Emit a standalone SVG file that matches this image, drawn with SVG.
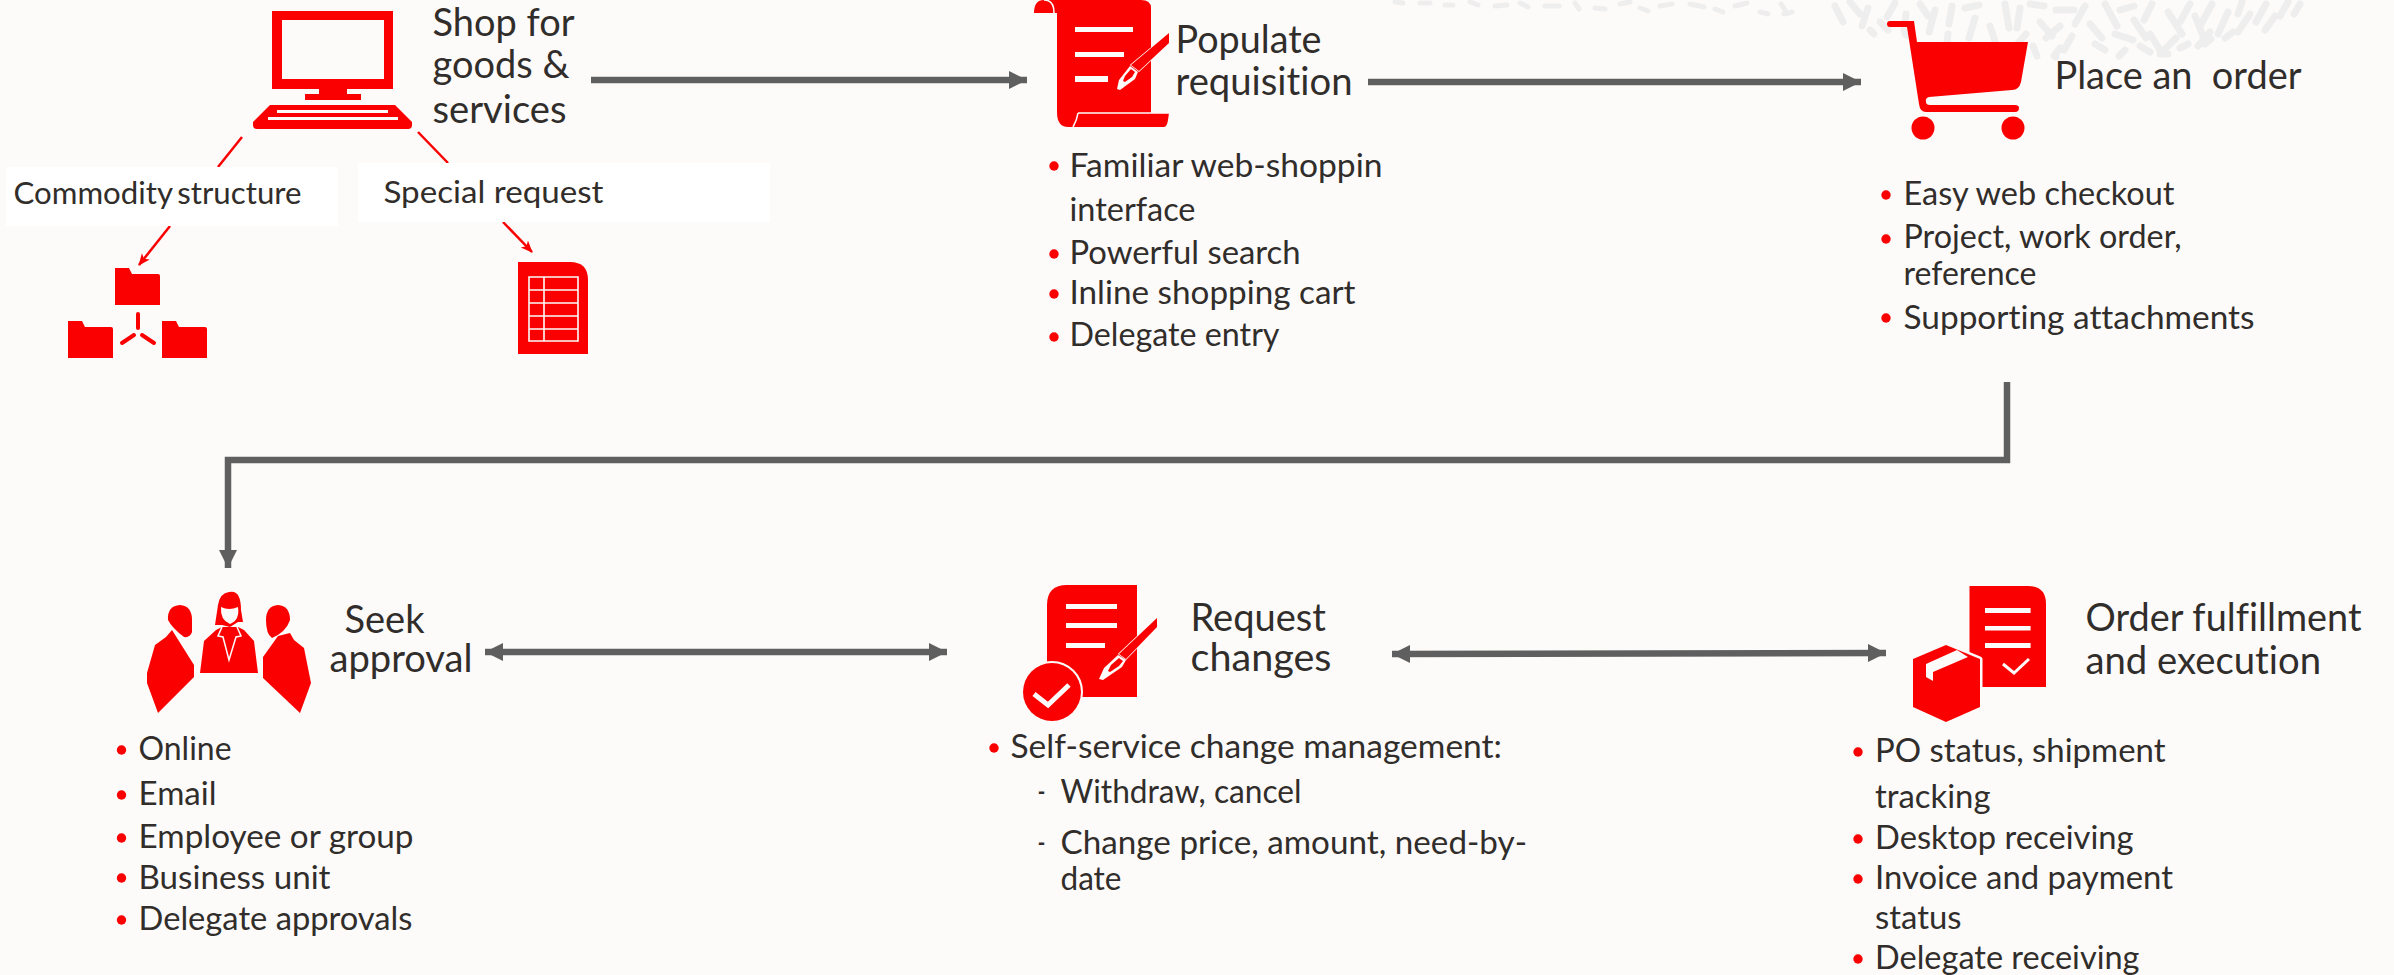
<svg xmlns="http://www.w3.org/2000/svg" width="2394" height="975" viewBox="0 0 2394 975">
<style>
text{font-family:Lato,"Open Sans","Liberation Sans",sans-serif;fill:#312d2a;font-variant-ligatures:none}
.h{font-size:38px}
.b{font-size:32px}
.l{font-size:31px}
.r{fill:#fb0000}
.w{fill:#fcfbfa}
.wl{fill:none;stroke:#fcfbfa}
.c{fill:none;stroke:#5f5f5f;stroke-width:6.5}
.t{fill:none;stroke:#fb0000;stroke-width:2.5}
.d{fill:#fb0000}
</style>
<defs>
<path id="folder" d="M0 0H14L17 6H43Q45 6 45 8V37H0Z" fill="#fb0000"/>
<marker id="ga" markerUnits="userSpaceOnUse" markerWidth="18" markerHeight="18" refX="18" refY="9" orient="auto-start-reverse"><path d="M0 0L18 9L0 18Z" fill="#5f5f5f"/></marker>
<marker id="ra" markerUnits="userSpaceOnUse" markerWidth="12" markerHeight="12" refX="11" refY="6" orient="auto"><path d="M0 1L12 6L0 11L3 6Z" fill="#fb0000"/></marker>
</defs>
<rect width="2394" height="975" fill="#fcfbfa"/>
<g id="background-pattern" fill="none" stroke="#efeeee" stroke-width="7" stroke-linecap="round">
<path stroke-width="5" d="M1395 2l8 1M1420 3l10 0M1445 5l8 0M1470 2l8 3M1495 6l12 -1M1520 3l8 4M1545 6l14 0M1575 3l4 6M1595 8l10 1M1620 4l10 -2M1640 8l8 3M1660 6l12 -2M1690 4l14 3M1715 9l8 3M1735 6l12 -3M1760 12l8 2M1785 10l-4 -6M1792 12l-8 2"/>
<path d="M1835 6l8 16M1850 2l10 12M1868 8l-6 18M1880 22l8 8M1895 3l-8 14M1906 14l-2 16M1920 4l8 12M1935 10l-6 22M1952 6l-3 18M1948 34l-1 8M1965 8l14 -3M1975 18l-6 20M1990 26l6 18M2005 4l4 24M2020 8l-3 20M2030 4l14 2M2026 34l-12 14M2040 22l12 14M2056 10l18 0M2060 26l-14 12M2072 36l-8 14M2085 6l-10 18M2090 24l12 14M2105 4l12 22M2120 10l14 -4M2115 34l18 6M2134 20l12 18M2152 4l-8 16M2150 34l10 16M2168 12l14 22M2176 38l-12 12M2190 4l-10 18M2195 16l8 20M2212 4l-12 22M2210 32l-12 14M2228 12l-10 22M2242 2l-4 12M2250 14l-12 18M2266 4l-10 18M2275 16l-10 14M2288 2l-8 14M2300 4l-6 10"/>
<path d="M2060 48l-6 8M2033 46l4 10M1985 46l6 10M2095 44l10 6M2125 50l-6 6M2140 46l10 6M1905 34l8 4M1870 30l4 4M2180 48l8 -4M2205 44l6 -5M2056 54l0 3M2160 54l8 0M2225 38l8 -6"/>
</g>
<g id="connectors">
<path class="c" marker-end="url(#ga)" d="M591 80H1027"/>
<path class="c" marker-end="url(#ga)" d="M1368 82H1861"/>
<path class="c" marker-end="url(#ga)" d="M2007 382V460H228V568"/>
<path class="c" marker-start="url(#ga)" marker-end="url(#ga)" d="M485 652H947"/>
<path class="c" marker-start="url(#ga)" marker-end="url(#ga)" d="M1392 654L1886 653"/>
<path class="t" d="M242 137L218 167"/>
<path class="t" d="M418 132L448 163"/>
<path class="t" marker-end="url(#ra)" d="M170 226L139 265"/>
<path class="t" marker-end="url(#ra)" d="M503 222L532 252"/>
</g>
<g id="shop">
<path class="r" fill-rule="evenodd" d="M272 11H393V89H347V94H361V100H305V94H319V89H272ZM282 20V79H384V20Z"/>
<path class="r" d="M270 105H395L412 122V125Q412 129 408 129H257Q253 129 253 125V122Z"/>
<rect class="w" x="277" y="110" width="111" height="3"/>
<rect class="w" x="268" y="117" width="130" height="3"/>
<text class="h" x="432.500" y="36" textLength="142" lengthAdjust="spacingAndGlyphs">Shop for</text>
<text class="h" x="432.500" y="78" textLength="137" lengthAdjust="spacingAndGlyphs">goods &amp;</text>
<text class="h" x="432.500" y="123" textLength="134" lengthAdjust="spacingAndGlyphs">services</text>
</g>
<g id="commodity-structure">
<rect x="6" y="167" width="332" height="59" fill="#fff"/>
<text class="l" x="13.500" y="204" textLength="288" lengthAdjust="spacingAndGlyphs" word-spacing="-3">Commodity structure</text>
<use href="#folder" x="115" y="268"/>
<use href="#folder" x="68" y="321"/>
<use href="#folder" x="162" y="321"/>
<path d="M138 314V328M122 343L134 335M154 343L142 335" fill="none" stroke="#fb0000" stroke-width="4" stroke-linecap="round"/>
</g>
<g id="special-request">
<rect x="358" y="163" width="412" height="59" fill="#fff"/>
<text class="l" x="383.500" y="203" textLength="220" lengthAdjust="spacingAndGlyphs">Special request</text>
<path class="r" d="M518 262H570Q588 262 588 280V354H518Z"/>
<path fill="none" stroke="#fcfbfa" stroke-width="1.6" d="M529 277H578V341H529ZM529 290H578M529 303H578M529 316H578M529 329H578M544 277V341"/>
</g>
<g id="populate-requisition">
<path class="r" d="M1034 13Q1034 0 1044 0H1141Q1151 0 1151 8V113H1169L1168 120Q1167 127 1164 127H1068Q1057 127 1057 112V13Z"/>
<path class="wl" stroke-width="1.6" d="M1054 13Q1054 0 1044 0M1078 113H1169M1078 113Q1077 120 1073 127"/>
<rect class="w" x="1075" y="27" width="58" height="5"/>
<rect class="w" x="1075" y="52" width="49" height="5"/>
<rect class="w" x="1075" y="76" width="33" height="6"/>
<path class="r" stroke="#fcfbfa" stroke-width="1.5" paint-order="stroke" d="M1169 33L1169 43L1139 71L1131 65Z"/>
<path class="w" d="M1130 66L1138 72L1135 79L1120 90L1117 89L1119 80Z"/>
<path class="r" d="M1131 69L1135 72L1132 77L1125 82L1123 81L1125 76Z"/>
<text class="h" x="1175.500" y="53" textLength="146" lengthAdjust="spacingAndGlyphs">Populate</text>
<text class="h" x="1175.500" y="95" textLength="177" lengthAdjust="spacingAndGlyphs">requisition</text>
<circle class="d" cx="1054" cy="166" r="4.7"/>
<text class="b" x="1069.500" y="177" textLength="313" lengthAdjust="spacingAndGlyphs">Familiar web-shoppin</text>
<text class="b" x="1069.500" y="221" textLength="126" lengthAdjust="spacingAndGlyphs">interface</text>
<circle class="d" cx="1054" cy="254" r="4.7"/>
<text class="b" x="1069.500" y="264" textLength="231" lengthAdjust="spacingAndGlyphs">Powerful search</text>
<circle class="d" cx="1054" cy="294" r="4.7"/>
<text class="b" x="1069.500" y="304" textLength="286" lengthAdjust="spacingAndGlyphs">Inline shopping cart</text>
<circle class="d" cx="1054" cy="337" r="4.7"/>
<text class="b" x="1069.500" y="346" textLength="210" lengthAdjust="spacingAndGlyphs">Delegate entry</text>
</g>
<g id="place-order">
<path class="r" d="M1890 21H1914L1917 42H2028L2021 82Q2019 90 2012 90L1929 97Q1925 98 1926 102Q1926 105 1930 105H2015Q2019 105 2019 108Q2019 112 2015 112H1926Q1920 112 1919 104L1907 27H1890Q1887 27 1887 24Q1887 21 1890 21Z"/>
<circle class="r" cx="1923" cy="128" r="11.5"/>
<circle class="r" cx="2013" cy="128" r="11.5"/>
<text class="h" x="2054.500" y="89" textLength="247" lengthAdjust="spacingAndGlyphs" xml:space="preserve">Place an  order</text>
<circle class="d" cx="1886" cy="195" r="4.7"/>
<text class="b" x="1903.500" y="205" textLength="271" lengthAdjust="spacingAndGlyphs">Easy web checkout</text>
<circle class="d" cx="1886" cy="239" r="4.7"/>
<text class="b" x="1903.500" y="248" textLength="278" lengthAdjust="spacingAndGlyphs">Project, work order,</text>
<text class="b" x="1903.500" y="285" textLength="133" lengthAdjust="spacingAndGlyphs">reference</text>
<circle class="d" cx="1886" cy="318" r="4.7"/>
<text class="b" x="1903.500" y="329" textLength="351" lengthAdjust="spacingAndGlyphs">Supporting attachments</text>
</g>
<g id="seek-approval">
<path class="r" d="M229 592Q241 589 241 610L243 622H238L230 627L222 625H215L218 605Q220 593 229 592Z"/>
<path class="r" d="M216 630L222 627H238L244 630L254 641L258 673H200L204 641Z"/>
<path class="wl" stroke-width="1.5" d="M222 627L218 636L223 637L229 660L236 637L241 636L237 627"/>
<path class="w" d="M221 607Q229 611 238 607Q240 620 230 624Q220 620 221 607Z"/>
<path class="r" d="M180 605Q192 606 192 620V632Q190 638 184 637Q172 628 168 620Q167 606 180 605Z"/>
<path class="r" d="M166 637L172 630L194 665V677L158 713L147 683V673L155 645Z"/>
<path class="r" d="M278 605Q290 606 290 620Q286 632 272 638Q266 634 266 620Q266 606 278 605Z"/>
<path class="r" d="M290 633L294 640L304 648L311 683L300 713L263 678V657L278 636Z"/>
<text class="h"><tspan x="344.500" y="633" textLength="80" lengthAdjust="spacingAndGlyphs">Seek</tspan><tspan x="329.500" y="672" textLength="143" lengthAdjust="spacingAndGlyphs">approval</tspan></text>
<circle class="d" cx="121.500" cy="750" r="4.7"/>
<text class="b" x="138.500" y="760" textLength="93" lengthAdjust="spacingAndGlyphs">Online</text>
<circle class="d" cx="121.500" cy="795" r="4.7"/>
<text class="b" x="138.500" y="805" textLength="78" lengthAdjust="spacingAndGlyphs">Email</text>
<circle class="d" cx="121.500" cy="838" r="4.7"/>
<text class="b" x="138.500" y="848" textLength="275" lengthAdjust="spacingAndGlyphs">Employee or group</text>
<circle class="d" cx="121.500" cy="878" r="4.7"/>
<text class="b" x="138.500" y="889" textLength="192" lengthAdjust="spacingAndGlyphs">Business unit</text>
<circle class="d" cx="121.500" cy="920" r="4.7"/>
<text class="b" x="138.500" y="930" textLength="274" lengthAdjust="spacingAndGlyphs">Delegate approvals</text>
</g>
<g id="request-changes">
<path class="r" d="M1067 585H1137V697H1047V605Q1047 585 1067 585Z"/>
<circle class="r" cx="1052" cy="692" r="29" stroke="#fcfbfa" stroke-width="4" paint-order="stroke"/>
<path class="wl" stroke-width="5" d="M1034 694L1048 705L1069 685"/>
<rect class="w" x="1066" y="604" width="51" height="5"/>
<rect class="w" x="1066" y="623" width="51" height="5"/>
<rect class="w" x="1066" y="643" width="39" height="5"/>
<path class="r" stroke="#fcfbfa" stroke-width="1.5" paint-order="stroke" d="M1157 618L1157 627L1126 659L1119 654Z"/>
<path class="w" d="M1118 655L1126 660L1122 667L1103 680L1099 679L1104 668Z"/>
<path class="r" d="M1119 658L1123 661L1119 666L1110 672L1108 671L1111 665Z"/>
<text class="h"><tspan x="1190.500" y="631" textLength="135.500" lengthAdjust="spacingAndGlyphs">Request</tspan><tspan x="1190.500" y="671" textLength="141" lengthAdjust="spacingAndGlyphs">changes</tspan></text>
<circle class="d" cx="994" cy="748" r="4.7"/>
<text class="b" x="1010.500" y="758" textLength="491.500" lengthAdjust="spacingAndGlyphs">Self-service change management:</text>
<text class="b" x="1037.500" y="803" textLength="8" lengthAdjust="spacingAndGlyphs">-</text>
<text class="b" x="1060.500" y="803" textLength="241" lengthAdjust="spacingAndGlyphs">Withdraw, cancel</text>
<text class="b" x="1037.500" y="854" textLength="8" lengthAdjust="spacingAndGlyphs">-</text>
<text class="b" x="1060.500" y="854" textLength="466.500" lengthAdjust="spacingAndGlyphs">Change price, amount, need-by-</text>
<text class="b" x="1060.500" y="890" textLength="61" lengthAdjust="spacingAndGlyphs">date</text>
</g>
<g id="order-fulfillment">
<path class="r" d="M1969.500 586H2028Q2046 586 2046 604V687H1969.500Z"/>
<rect class="w" x="1985" y="608" width="45.600" height="5"/>
<rect class="w" x="1985" y="626" width="45.600" height="4.500"/>
<rect class="w" x="1985" y="643" width="45.600" height="5"/>
<path class="wl" stroke-width="3" d="M2003 664L2014 673L2029 659"/>
<path class="r" stroke="#fcfbfa" stroke-width="5" stroke-linejoin="round" paint-order="stroke" d="M1946 645L1980 659V707L1946 722L1913 707V659Z"/>
<path class="w" d="M1957 650L1926 664V677L1933 681V672L1968 657Z"/>
<text class="h" x="2085.500" y="631" textLength="276" lengthAdjust="spacingAndGlyphs">Order fulfillment</text>
<text class="h" x="2085.500" y="674" textLength="235.500" lengthAdjust="spacingAndGlyphs">and execution</text>
<circle class="d" cx="1858" cy="752" r="4.7"/>
<text class="b" x="1875" y="762" textLength="290.500" lengthAdjust="spacingAndGlyphs">PO status, shipment</text>
<text class="b" x="1875" y="808" textLength="115.500" lengthAdjust="spacingAndGlyphs">tracking</text>
<circle class="d" cx="1858" cy="839" r="4.7"/>
<text class="b" x="1875" y="849" textLength="258.500" lengthAdjust="spacingAndGlyphs">Desktop receiving</text>
<circle class="d" cx="1858" cy="879" r="4.7"/>
<text class="b" x="1875" y="889" textLength="298" lengthAdjust="spacingAndGlyphs">Invoice and payment</text>
<text class="b" x="1875" y="929" textLength="86.500" lengthAdjust="spacingAndGlyphs">status</text>
<circle class="d" cx="1858" cy="959" r="4.7"/>
<text class="b" x="1875" y="969" textLength="264.500" lengthAdjust="spacingAndGlyphs">Delegate receiving</text>
</g>
</svg>
